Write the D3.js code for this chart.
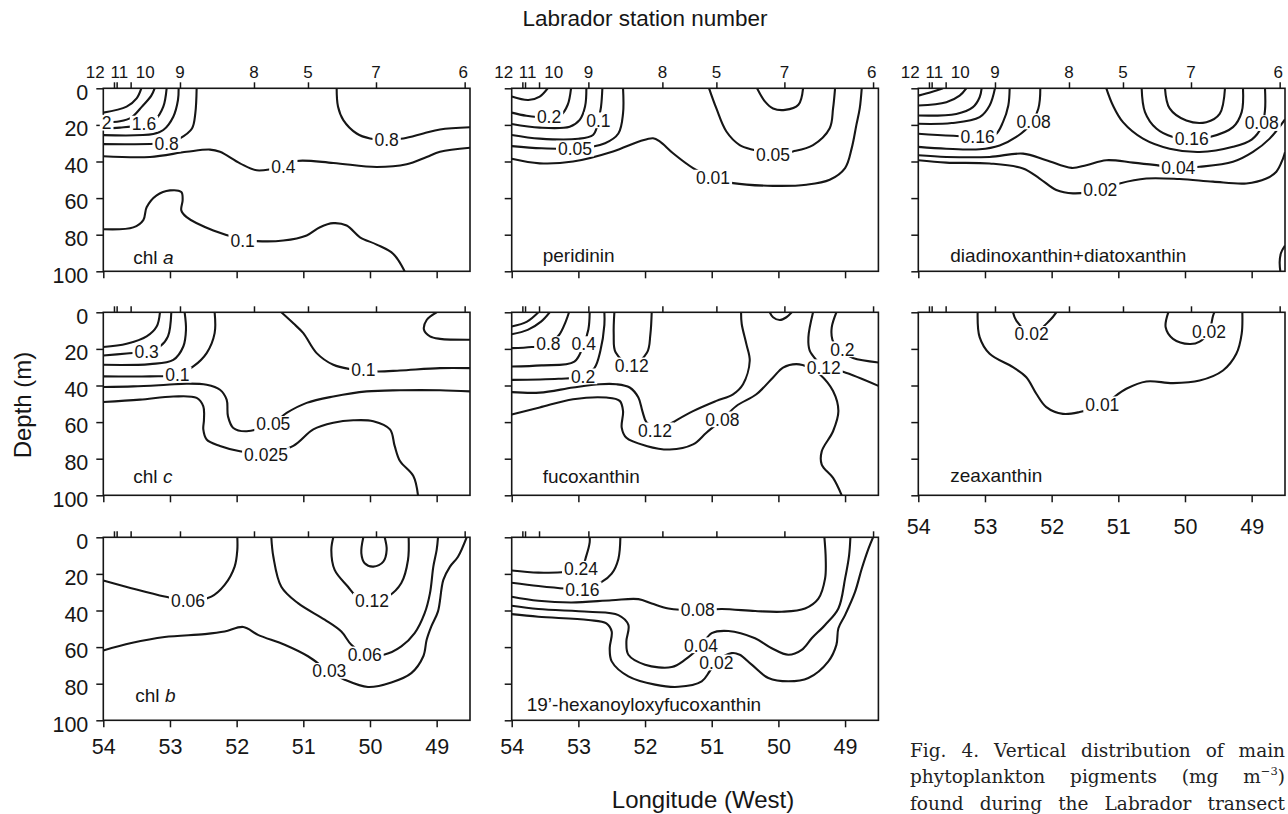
<!DOCTYPE html>
<html>
<head>
<meta charset="utf-8">
<script src="https://cdn.jsdelivr.net/npm/d3@7"></script>
<style>
  body { margin: 0; background: #fff; }
</style>
</head>
<body>
<div id="chart"></div>
<script>
// axis values
const lonTicks = [54, 53, 52, 51, 50, 49];
const depthTicks = [0, 20, 40, 60, 80, 100];
const stationNames = ['12', '11', '10', '9', '8', '5', '7', '6'];
const stationLon = [53.84, 53.80, 53.59, 52.85, 51.74, 50.93, 49.91, 48.58];
const stationLabelLon = [54.12, 53.76, 53.37, 52.85, 51.74, 50.93, 49.91, 48.6];

// caption, one array per printed line ('^' marks the superscript)
const captionLines = [
  ['Fig.', '4.', 'Vertical', 'distribution', 'of', 'main'],
  ['phytoplankton', 'pigments', '(mg', 'm^\u22123^)'],
  ['found', 'during', 'the', 'Labrador', 'transect']
];

// contour lines: v = label, at = [lon, depth] of label, p = [lon, depth] points
const chlA = [
  { p: [[54, 13.3], [53.65, 10], [53.5, 5.5], [53.43, 0]] },
  { v: '2', at: [53.95, 18.8], p: [[54, 18.5], [53.75, 18], [53.58, 16], [53.42, 10], [53.28, 4], [53.23, 0]] },
  { v: '1.6', at: [53.39, 19.3], p: [[54, 22], [53.75, 21.5], [53.39, 19.8], [53.22, 17], [53.1, 10], [53.05, 0]] },
  { p: [[54, 25.6], [53.25, 25], [53.1, 22.8], [52.95, 15.5], [52.88, 6.4], [52.87, 0]] },
  { v: '0.8', at: [53.05, 30.3], p: [[54, 30.5], [53.22, 30.3], [53.0, 29.5], [52.85, 27.4], [52.67, 22], [52.62, 13.7], [52.6, 0]] },
  { v: '0.4', at: [51.3, 43], p: [[54, 37.1], [53.3, 37.5], [52.75, 34.7], [52.4, 33.5], [52.25, 34.7], [51.95, 41], [51.7, 44.8], [51.3, 42.5], [51.1, 39.7], [50.55, 40.8], [49.9, 43], [49.45, 41.5], [49.15, 37.5], [48.95, 34.7], [48.5, 32.5]] },
  { v: '0.8', at: [49.75, 28], p: [[50.5, 0], [50.48, 10], [50.4, 17.4], [50.2, 24.7], [50.0, 27.4], [49.75, 28], [49.5, 27.4], [49.2, 24.7], [48.95, 22.5], [48.5, 21.3]] },
  { v: '0.1', at: [51.91, 83], p: [[54, 77], [53.55, 76], [53.4, 72], [53.35, 65], [53.2, 58.5], [53.0, 55.8], [52.83, 56.7], [52.81, 61], [52.83, 66.7], [52.75, 70.4], [52.35, 77.7], [51.91, 82.5], [51.7, 83.5], [51.3, 83.2], [50.95, 80.4], [50.75, 75.9], [50.55, 73.7], [50.35, 75], [50.15, 81.4], [49.9, 85.4], [49.65, 90.5], [49.48, 100]] }
];

const peridinin = [
  { p: [[54, 4.5], [53.75, 6.4], [53.58, 4.5], [53.46, 0]] },
  { v: '0.2', at: [53.44, 15.5], p: [[54, 13.3], [53.78, 15], [53.44, 15.8], [53.26, 14.5], [53.16, 9], [53.11, 0]] },
  { p: [[54, 19.5], [53.58, 21.5], [53.13, 21], [52.98, 17.3], [52.9, 10], [52.88, 0]] },
  { v: '0.1', at: [52.7, 17.5], p: [[54, 25.5], [53.58, 27.5], [53.0, 27.6], [52.78, 25.5], [52.72, 21], [52.7, 17.5], [52.66, 10], [52.64, 0]] },
  { v: '0.05', at: [53.05, 33], p: [[54, 31.6], [53.55, 32.8], [53.05, 33], [52.6, 30], [52.4, 24.7], [52.33, 13.7], [52.33, 0]] },
  { v: '0.01', at: [50.98, 48.8], p: [[54, 38.5], [53.58, 41], [53.08, 40], [52.48, 34.5], [52.08, 29], [51.88, 27.3], [51.78, 29], [51.58, 35.5], [51.28, 43.6], [50.98, 49], [50.68, 51.8], [50.08, 53.3], [49.58, 52.7], [49.23, 50], [49.0, 43.6], [48.9, 32.7], [48.83, 20], [48.78, 11], [48.75, 0]] },
  { v: '0.05', at: [50.08, 36.2], p: [[51.04, 0], [50.93, 11], [50.78, 23.6], [50.58, 31], [50.38, 33.6], [50.08, 36], [49.78, 34.5], [49.48, 31], [49.23, 21.8], [49.18, 11], [49.15, 0]] },
  { p: [[50.32, 0], [50.2, 7.3], [50.08, 11], [49.9, 11.8], [49.7, 9], [49.63, 0]] }
];

const diadino = [
  { p: [[54, 4], [53.8, 2], [53.63, 0]] },
  { p: [[54, 9.4], [53.58, 7.6], [53.38, 4], [53.28, 0]] },
  { p: [[54, 14.9], [53.43, 14], [53.18, 10.3], [53.08, 4.9], [53.05, 0]] },
  { p: [[54, 19.4], [53.5, 19], [53.08, 15.8], [52.93, 9.4], [52.85, 0]] },
  { v: '0.16', at: [53.11, 26.5], p: [[54, 24.8], [53.11, 26.3], [52.85, 25.5], [52.73, 18.5], [52.65, 9.4], [52.63, 0]] },
  { v: '0.08', at: [52.27, 18.1], p: [[54, 32], [53.58, 33], [53.08, 33.3], [52.78, 31.2], [52.53, 26.6], [52.3, 19], [52.2, 11.2], [52.17, 0]] },
  { v: '0.04', at: [50.1, 43.5], p: [[54, 36.6], [53.58, 37.5], [52.93, 37.5], [52.43, 35.7], [52.08, 39.3], [51.7, 43.5], [51.48, 42], [51.18, 39.3], [50.78, 40.6], [50.43, 42], [50.1, 43.5], [49.78, 42.9], [49.28, 40.2], [48.98, 34.8], [48.73, 27.5], [48.5, 17]] },
  { v: '0.02', at: [51.27, 55.5], p: [[54, 39.3], [53.58, 40.6], [52.93, 41.1], [52.43, 43.8], [52.18, 49.3], [51.93, 55.6], [51.68, 57.4], [51.27, 55.6], [50.98, 52], [50.58, 49.3], [50.08, 49.6], [49.58, 51], [49.08, 52], [48.78, 49.3], [48.63, 45.6], [48.53, 38.4], [48.5, 35]] },
  { v: '0.08', at: [48.85, 19], p: [[51.18, 0], [51.08, 9.4], [50.93, 18.5], [50.63, 27.5], [50.23, 33], [49.78, 34.8], [49.28, 32], [49.0, 28], [48.85, 21], [48.8, 12], [48.8, 0]] },
  { v: '0.16', at: [49.9, 27.5], p: [[50.65, 0], [50.6, 13], [50.43, 22], [50.18, 26.6], [49.9, 27.5], [49.63, 26.6], [49.28, 21.2], [49.15, 13], [49.13, 0]] },
  { p: [[50.3, 0], [50.23, 11], [49.98, 17.6], [49.68, 18.5], [49.48, 14], [49.4, 0]] },
  { p: [[48.5, 86], [48.56, 90], [48.58, 95], [48.57, 100]] }
];

const chlC = [
  { p: [[54, 19], [53.65, 17.2], [53.35, 13.2], [53.2, 7.8], [53.15, 0]] },
  { v: '0.3', at: [53.35, 21.4], p: [[54, 23.6], [53.65, 22.5], [53.35, 21.4], [53.15, 18.7], [53.03, 13.2], [52.98, 0]] },
  { p: [[54, 28.7], [53.3, 28.3], [52.95, 26], [52.8, 18.7], [52.76, 9.6], [52.78, 0]] },
  { v: '0.1', at: [52.89, 34.1], p: [[54, 35], [53.3, 35], [52.89, 34.1], [52.65, 29.6], [52.45, 22.3], [52.33, 11.4], [52.33, 0]] },
  { v: '0.1', at: [50.1, 31.5], p: [[51.33, 0], [51.15, 6], [51.0, 11.4], [50.8, 22.3], [50.55, 28.7], [50.3, 31], [50.1, 31.6], [49.9, 32.3], [49.55, 31.8], [48.95, 30.5], [48.5, 30.5]] },
  { p: [[49.0, 0], [49.15, 4.2], [49.19, 9.6], [49.1, 13.2], [48.95, 14.5], [48.5, 15]] },
  { v: '0.05', at: [51.45, 61], p: [[54, 40.8], [53.55, 40.5], [53.05, 39.6], [52.75, 39], [52.45, 39.6], [52.25, 42.3], [52.15, 47.7], [52.13, 56.8], [52.05, 63.2], [51.85, 65], [51.45, 60.5], [51.25, 55], [50.95, 49.5], [50.55, 46], [50.05, 43.2], [49.55, 42.6], [48.95, 42.6], [48.5, 43.2]] },
  { v: '0.025', at: [51.56, 78], p: [[54, 49], [53.45, 47.7], [52.95, 46], [52.6, 46.8], [52.5, 51.4], [52.49, 58.6], [52.5, 64], [52.45, 69.5], [52.25, 73], [51.95, 75.9], [51.56, 77.5], [51.15, 73], [50.85, 64], [50.55, 60.4], [50.25, 59], [49.95, 59.5], [49.7, 64], [49.63, 73], [49.55, 81.3], [49.35, 89.5], [49.28, 100]] }
];

const fucox = [
  { p: [[54, 7.8], [53.77, 5.1], [53.6, 0]] },
  { p: [[54, 12], [53.76, 9.6], [53.56, 5.1], [53.43, 0]] },
  { v: '0.8', at: [53.45, 17.4], p: [[54, 19.6], [53.7, 19], [53.45, 17.4], [53.29, 12.4], [53.19, 5.1], [53.14, 0]] },
  { v: '0.4', at: [52.92, 17.4], p: [[54, 29.6], [53.55, 29], [53.06, 26.9], [52.92, 17.4], [52.85, 9.4], [52.83, 0]] },
  { v: '0.2', at: [52.93, 35], p: [[54, 36.9], [53.3, 36.3], [52.93, 35], [52.76, 30.5], [52.67, 21], [52.61, 6.9], [52.61, 0]] },
  { v: '0.12', at: [52.2, 29], p: [[52.46, 0], [52.47, 12], [52.44, 22], [52.2, 29], [51.97, 22], [51.92, 12], [51.9, 0]] },
  { v: '0.12', at: [51.85, 64.5], p: [[54, 43.6], [53.58, 43.9], [53.08, 41.1], [52.68, 39.3], [52.43, 39.3], [52.23, 41.1], [52.1, 46.6], [52.04, 54], [51.98, 60], [51.85, 63], [51.7, 62.5], [51.58, 60], [51.28, 54], [50.93, 48.4], [50.68, 44.8], [50.53, 39.3], [50.43, 26.5], [50.48, 17.4], [50.55, 6.4], [50.56, 0]] },
  { v: '0.08', at: [50.84, 58.5], p: [[54, 55.8], [53.58, 52], [53.08, 47.5], [52.58, 46.6], [52.38, 48.4], [52.33, 54], [52.35, 63], [52.28, 68.6], [51.98, 73], [51.63, 75], [51.28, 72.2], [51.08, 65.8], [50.84, 58.5], [50.63, 51.2], [50.33, 44.8], [50.08, 35.6], [49.93, 30.2], [49.73, 28.3], [49.53, 30.2], [49.38, 33.8], [49.18, 43], [49.1, 54], [49.18, 65], [49.35, 76], [49.35, 83.2], [49.18, 90.5], [49.05, 100]] },
  { v: '0.12', at: [49.32, 30], p: [[49.48, 0], [49.55, 13.7], [49.53, 21], [49.42, 26.5], [49.32, 30], [49.03, 32.5], [48.5, 40.2]] },
  { v: '0.2', at: [49.04, 20.2], p: [[49.13, 0], [49.2, 8.2], [49.19, 15], [49.12, 19.5], [49.04, 21.5], [48.88, 25], [48.5, 27.4]] },
  { p: [[50.13, 0], [50.08, 2.7], [49.98, 4.2], [49.88, 2.7], [49.8, 0]] }
];

const zeax = [
  { v: '0.01', at: [51.24, 50.3], p: [[53.11, 0], [53.08, 13.6], [52.93, 22.7], [52.58, 30], [52.38, 35.5], [52.23, 44.5], [52.08, 51.8], [51.83, 55.5], [51.58, 54.5], [51.24, 50.5], [50.88, 41.8], [50.58, 37.8], [50.18, 38.7], [49.78, 37.3], [49.43, 31.8], [49.23, 22.7], [49.15, 11.8], [49.14, 0]] },
  { v: '0.02', at: [52.3, 11.8], p: [[52.58, 0], [52.53, 4.5], [52.3, 11.8], [52.03, 4.5], [51.93, 0]] },
  { v: '0.02', at: [49.64, 10.4], p: [[50.25, 0], [50.29, 8.2], [50.18, 14.5], [49.93, 17.3], [49.78, 16], [49.64, 10.5], [49.58, 2], [49.56, 0]] }
];

const chlB = [
  { v: '0.06', at: [52.73, 34.5], p: [[54, 23.6], [53.58, 27.8], [53.08, 32.4], [52.73, 34.7], [52.38, 32.4], [52.18, 26], [52.03, 16], [51.99, 6.9], [51.99, 0]] },
  { v: '0.03', at: [50.61, 73], p: [[54, 61.8], [53.58, 57.8], [53.08, 54.5], [52.48, 52.9], [52.18, 51.5], [51.9, 49], [51.68, 53.3], [51.28, 58.7], [50.93, 65], [50.61, 73.3], [50.38, 77.8], [50.03, 81.8], [49.68, 79.3], [49.38, 74.2], [49.2, 65], [49.15, 56], [49.08, 48.7], [48.98, 40.5], [48.9, 23.3], [48.8, 16], [48.68, 10.6], [48.55, 0]] },
  { v: '0.06', at: [50.08, 64], p: [[51.48, 0], [51.45, 10.5], [51.33, 27], [51.08, 36], [50.68, 45], [50.43, 51.5], [50.28, 58.7], [50.08, 63.5], [49.78, 64], [49.53, 59.6], [49.33, 52.4], [49.18, 41.5], [49.1, 30.5], [49.05, 16], [49.0, 6.9], [48.98, 0]] },
  { v: '0.12', at: [49.97, 34.8], p: [[50.55, 0], [50.58, 6.9], [50.53, 17.8], [50.33, 27], [50.2, 32.4], [49.97, 35.3], [49.73, 32.4], [49.53, 25], [49.43, 12.4], [49.42, 0]] },
  { p: [[50.1, 0], [50.13, 8.7], [50.08, 14.2], [49.95, 16], [49.8, 13.3], [49.75, 6.9], [49.78, 0]] }
];

const hex = [
  { v: '0.24', at: [52.96, 17.2], p: [[54, 18.1], [53.6, 19.3], [53.2, 19], [52.96, 17.2], [52.88, 10], [52.83, 2.7], [52.83, 0]] },
  { v: '0.16', at: [52.94, 28.4], p: [[54, 24.8], [53.6, 26.6], [53.2, 28], [52.94, 28.4], [52.65, 24.4], [52.5, 19.9], [52.4, 11.8], [52.37, 0]] },
  { v: '0.08', at: [51.21, 39.8], p: [[54, 32.5], [53.6, 34.7], [53.1, 35.6], [52.5, 34.4], [52.1, 33.8], [51.9, 36.2], [51.65, 38.9], [51.21, 39.8], [50.85, 39.2], [50.35, 40.3], [49.95, 40.7], [49.6, 38.9], [49.4, 33.5], [49.3, 22.6], [49.29, 11.8], [49.31, 0]] },
  { v: '0.04', at: [51.16, 59], p: [[54, 37.4], [53.6, 39.2], [52.85, 40.7], [52.4, 42.5], [52.25, 47.9], [52.28, 57], [52.25, 64.2], [52.0, 69.6], [51.6, 70.9], [51.4, 66.9], [51.16, 59.3], [51.0, 52.4], [50.75, 51.2], [50.35, 55.2], [50.1, 60.6], [49.85, 64.2], [49.65, 61.5], [49.5, 55.2], [49.3, 47.9], [49.1, 38.9], [49.0, 22.6], [48.94, 10], [48.92, 0]] },
  { v: '0.02', at: [50.93, 68.4], p: [[54, 42], [53.6, 43.4], [52.85, 45.2], [52.58, 47], [52.5, 51.5], [52.53, 60.6], [52.5, 67.8], [52.25, 76], [51.85, 80.5], [51.5, 81.7], [51.15, 78.7], [51.03, 73.2], [50.93, 68.2], [50.7, 63.3], [50.58, 64.2], [50.4, 69.6], [50.15, 76.9], [49.85, 78.7], [49.55, 76.9], [49.25, 67.8], [49.13, 58.8], [49.1, 49.7], [49.0, 42.5], [48.85, 29.8], [48.75, 17.2], [48.65, 6.3], [48.58, 0]] }
];

// panel layout
const colX = [103.3, 511.7, 918.3];
const rowY = [88.3, 312.3, 537.3];
const pw = 366.7, ph = 183;

const panels = [
  { data: chlA, name: 'chl ', ital: 'a', col: 0, row: 0, lx: 30, ly: 176 },
  { data: peridinin, name: 'peridinin', col: 1, row: 0, lx: 31, ly: 174 },
  { data: diadino, name: 'diadinoxanthin+diatoxanthin', col: 2, row: 0, lx: 32, ly: 174 },
  { data: chlC, name: 'chl ', ital: 'c', col: 0, row: 1, lx: 30, ly: 171 },
  { data: fucox, name: 'fucoxanthin', col: 1, row: 1, lx: 31, ly: 171 },
  { data: zeax, name: 'zeaxanthin', col: 2, row: 1, lx: 32, ly: 170, bottomLabels: true, pad: 16 },
  { data: chlB, name: 'chl ', ital: 'b', col: 0, row: 2, lx: 32, ly: 165, bottomLabels: true, pad: 11 },
  { data: hex, name: '19\u2019-hexanoyloxyfucoxanthin', col: 1, row: 2, lx: 15, ly: 174, bottomLabels: true, pad: 11 }
];

const ink = '#161616';
const sans = '"Liberation Sans", Arial, Helvetica, sans-serif';
const serif = '"DejaVu Serif", "Liberation Serif", serif';
const labelSize = 17.5;

const svg = d3.select('#chart').append('svg')
  .attr('width', 1288).attr('height', 814)
  .style('font-family', sans);

const x = d3.scaleLinear().domain([54, 48.5]).range([0, pw]);
const y = d3.scaleLinear().domain([0, 100]).range([0, ph]);

const line = d3.line()
  .x(d => x(d[0]))
  .y(d => y(d[1]))
  .curve(d3.curveCatmullRom.alpha(0.5));

panels.forEach((pn, i) => {
  const g = svg.append('g').attr('transform', `translate(${colX[pn.col]},${rowY[pn.row]})`);

  g.append('clipPath').attr('id', 'clip' + i)
    .append('rect').attr('width', pw).attr('height', ph);

  // contour lines
  g.append('g').attr('clip-path', `url(#clip${i})`)
    .selectAll('path').data(pn.data).join('path')
    .attr('d', d => line(d.p))
    .attr('fill', 'none')
    .attr('stroke', ink)
    .attr('stroke-width', 2.1);

  // frame
  g.append('rect').attr('width', pw).attr('height', ph)
    .attr('fill', 'none').attr('stroke', ink).attr('stroke-width', 1.6);

  // bottom axis
  const bx = g.append('g').attr('transform', `translate(0,${ph})`)
    .call(d3.axisBottom(x).tickValues(lonTicks).tickSize(7).tickPadding(pn.pad || 12)
      .tickFormat(pn.bottomLabels ? d3.format('d') : () => ''));

  // left axis
  const lx = g.append('g')
    .call(d3.axisLeft(y).tickValues(depthTicks).tickSize(7).tickPadding(8)
      .tickFormat(pn.col === 0 ? d3.format('d') : () => ''));

  // top axis with station ticks
  const tx = g.append('g')
    .call(d3.axisTop(x).tickValues(stationLon).tickSize(6).tickFormat(() => ''));

  [bx, lx, tx].forEach(a => {
    a.select('.domain').remove();
    a.selectAll('line').attr('stroke', ink).attr('stroke-width', 1.5);
    a.selectAll('text').attr('fill', ink).style('font-size', '21.5px').style('font-family', sans);
  });
  lx.selectAll('text').attr('dy', '0.5em');

  if (pn.row === 0) {
    g.append('g').selectAll('text').data(stationNames).join('text')
      .attr('x', (d, k) => x(stationLabelLon[k]))
      .attr('y', -10.5)
      .attr('text-anchor', 'middle')
      .attr('fill', ink)
      .style('font-size', '17px')
      .text(d => d);
  }

  // contour labels on a white patch that breaks the line
  const lg = g.append('g').selectAll('g').data(pn.data.filter(d => d.v)).join('g')
    .attr('transform', d => `translate(${x(d.at[0])},${y(d.at[1])})`);
  const lt = lg.append('text')
    .attr('dy', '0.36em')
    .attr('text-anchor', 'middle')
    .attr('fill', ink)
    .style('font-size', labelSize + 'px')
    .text(d => d.v);
  lt.each(function () {
    const w = this.getComputedTextLength();
    d3.select(this.parentNode).insert('rect', 'text')
      .attr('x', -w / 2 - 2).attr('y', -labelSize * 0.45)
      .attr('width', w + 4).attr('height', labelSize * 0.9)
      .attr('fill', '#fff');
  });

  // pigment name
  const nt = g.append('text')
    .attr('x', pn.lx).attr('y', pn.ly)
    .attr('fill', ink)
    .style('font-size', '19px');
  nt.append('tspan').text(pn.name);
  if (pn.ital) nt.append('tspan').style('font-style', 'italic').text(pn.ital);
});

// axis titles
svg.append('text')
  .attr('x', 645).attr('y', 26)
  .attr('text-anchor', 'middle')
  .attr('fill', ink)
  .style('font-size', '22.5px')
  .text('Labrador station number');

svg.append('text')
  .attr('transform', 'translate(31,405) rotate(-90)')
  .attr('text-anchor', 'middle')
  .attr('fill', ink)
  .style('font-size', '24px')
  .text('Depth (m)');

svg.append('text')
  .attr('x', 703).attr('y', 808)
  .attr('text-anchor', 'middle')
  .attr('fill', ink)
  .style('font-size', '24px')
  .text('Longitude (West)');

// justified caption
const capLeft = 910, capWidth = 375, capTop = 756.5, capStep = 26.5, capSize = 18.5;
captionLines.forEach((words, li) => {
  const lineG = svg.append('g').attr('transform', `translate(${capLeft},${capTop + li * capStep})`);
  const texts = words.map(w => {
    const t = lineG.append('text')
      .attr('fill', '#222')
      .style('font-family', serif)
      .style('font-size', capSize + 'px');
    w.split('^').forEach((part, k) => {
      if (!part) return;
      const sp = t.append('tspan').text(part);
      if (k === 1) sp.style('font-size', '0.62em').attr('dy', -8);
      if (k === 2) sp.attr('dy', 8);
    });
    return t;
  });
  const widths = texts.map(t => t.node().getComputedTextLength());
  const total = d3.sum(widths);
  let gap = (capWidth - total) / (words.length - 1);
  let s = 1;
  if (gap < 4) { gap = 4; s = (capWidth - gap * (words.length - 1)) / total; }
  let cx = 0;
  texts.forEach((t, k) => {
    t.attr('transform', `translate(${cx},0) scale(${s},1)`);
    cx += widths[k] * s + gap;
  });
});
</script>
</body>
</html>
